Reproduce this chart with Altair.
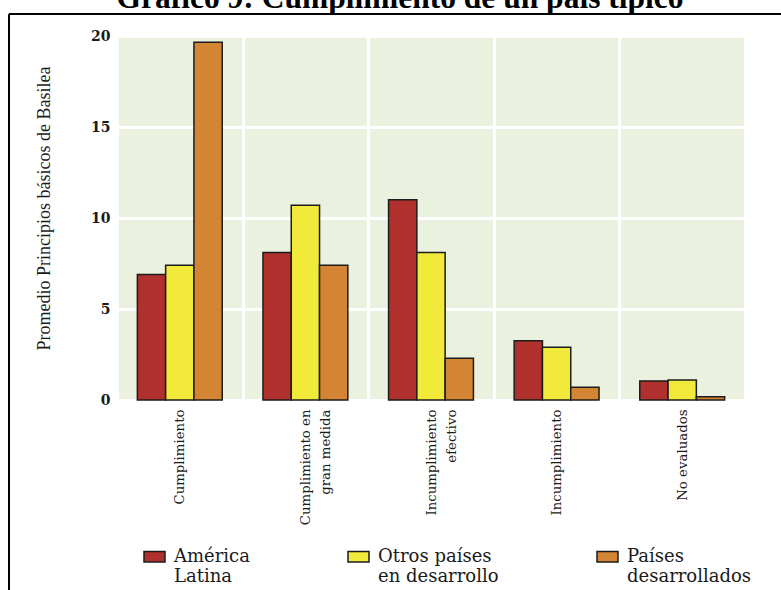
import altair as alt
import pandas as pd

# ---- data ----
categories = ["Cumplimiento", "Cumplimiento en\ngran medida", "Incumplimiento\nefectivo",
              "Incumplimiento", "No evaluados"]
groups = ["América\nLatina", "Otros países\nen desarrollo", "Países\ndesarrollados"]
america_latina = [6.9, 8.1, 11.0, 3.25, 1.05]
otros_paises = [7.4, 10.7, 8.1, 2.9, 1.1]
paises_desarrollados = [19.65, 7.4, 2.3, 0.7, 0.18]
y_ticks = [0, 5, 10, 15, 20]
colors = ["#B0302D", "#F2EA3B", "#D48533"]

rows = []
for g, series in zip(groups, [america_latina, otros_paises, paises_desarrollados]):
    for c, v in zip(categories, series):
        rows.append({"categoria": c, "grupo": g, "valor": v})
df = pd.DataFrame(rows)

W, H = 628, 364

bars = alt.Chart(df).mark_bar(stroke="#1c1c1c", strokeWidth=1.5).encode(
    x=alt.X("categoria:N", sort=categories,
            scale=alt.Scale(paddingInner=0, paddingOuter=0),
            axis=alt.Axis(title=None, labelAngle=270, labelFont="DejaVu Serif",
                          labelFontSize=13.3, labelColor="#1a1a1a", labelPadding=9,
                          labelLineHeight=20, labelExpr="split(datum.label, '\\n')",
                          ticks=False, domain=False, grid=True, tickBand="extent",
                          gridColor="white", gridWidth=3, gridOpacity=1)),
    xOffset=alt.XOffset("grupo:N", sort=groups,
                        scale=alt.Scale(paddingInner=0, paddingOuter=0.72)),
    y=alt.Y("valor:Q", scale=alt.Scale(domain=[0, 20], nice=False),
            axis=alt.Axis(values=y_ticks, title="Promedio Principios básicos de Basilea",
                          titleFont="Liberation Serif", titleFontSize=18,
                          titleFontWeight="normal", titleColor="#1a1a1a",
                          titleAngle=270, titleX=-73, titleY=172,
                          titleAlign="center", titleBaseline="middle",
                          labelFont="DejaVu Serif", labelFontSize=14,
                          labelFontWeight="bold", labelColor="#1a1a1a",
                          labelPadding=7, ticks=False, domain=False,
                          gridColor="white", gridWidth=3, gridOpacity=1)),
    color=alt.Color("grupo:N", sort=groups,
                    scale=alt.Scale(domain=groups, range=colors),
                    legend=alt.Legend(title=None, orient="none", legendX=26, legendY=509,
                                      direction="horizontal", padding=0,
                                      symbolType="M-1,-0.5L1,-0.5L1,0.5L-1,0.5Z",
                                      symbolSize=441, symbolStrokeColor="#1c1c1c",
                                      symbolStrokeWidth=1.5, symbolOpacity=1,
                                      labelFont="DejaVu Serif", labelFontSize=18,
                                      labelColor="#1a1a1a", labelOffset=8,
                                      labelLimit=300, columnPadding=95,
                                      labelExpr="split(datum.label, '\\n')")),
)

one = alt.Data(values=[{"k": 1}])
frame_top = alt.Chart(one).mark_rule(color="black", strokeWidth=2).encode(
    x=alt.value(-108), x2=alt.value(700), y=alt.value(-22))
frame_left = alt.Chart(one).mark_rule(color="black", strokeWidth=2).encode(
    x=alt.value(-108), y=alt.value(-22), y2=alt.value(600))

chart = alt.layer(bars, frame_top, frame_left).properties(
    width=W, height=H,
    background="white",
    title=alt.TitleParams(text="Gráfico 9: Cumplimiento de un país típico",
                          font="Liberation Serif", fontSize=31.5, fontWeight="bold",
                          color="black", anchor="middle", dx=-31, dy=26, offset=0,
                          baseline="alphabetic"),
    autosize=alt.AutoSizeParams(type="none"),
    padding={"left": 117, "top": 36, "right": 36, "bottom": 190},
).configure_view(fill="#EAF1DE", stroke="transparent")

chart.save("out.html", embed_options={"renderer": "svg", "actions": False})
